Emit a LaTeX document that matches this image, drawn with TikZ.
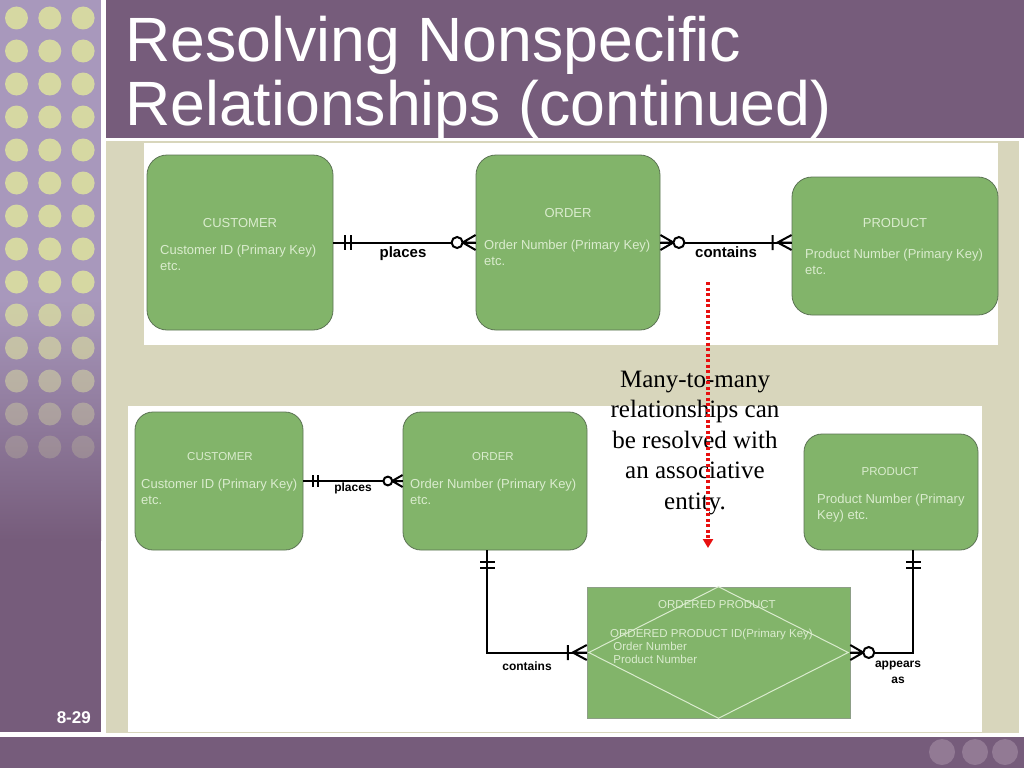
\documentclass[tikz,border=0pt]{standalone}
\usepackage{fontspec}
\setmainfont{Liberation Sans}
\newfontfamily\calloutfont{Liberation Serif}
\usetikzlibrary{arrows.meta}

\definecolor{titlepurple}{RGB}{118,92,123}
\definecolor{sidelight}{RGB}{168,152,188}
\definecolor{dotyellow}{RGB}{214,216,162}
\definecolor{panelbeige}{RGB}{216,214,188}
\definecolor{entgreen}{RGB}{130,180,106}
\definecolor{entborder}{RGB}{92,116,84}
\definecolor{enttext}{RGB}{218,236,206}
\definecolor{footdot}{RGB}{146,122,148}
\definecolor{calloutred}{RGB}{232,16,16}

\tikzset{
  entity/.style={draw=entborder, fill=entgreen, rounded corners=20pt, line width=0.8pt, inner sep=0pt},
  assocent/.style={draw=entborder!70, fill=entgreen, line width=0.5pt, inner sep=0pt},
  enttitle/.style={text=enttext, font=\fontsize{13}{16}\selectfont, inner sep=0pt, anchor=base},
  entbody/.style={text=enttext, font=\fontsize{13}{16}\selectfont, inner sep=0pt, anchor=north west, align=left},
  smalltitle/.style={enttitle, font=\fontsize{11.5}{14}\selectfont},
  smallbody/.style={entbody, font=\fontsize{11.5}{13}\selectfont},
  rel/.style={line width=2pt, black},
  rellabel/.style={font=\bfseries\fontsize{15}{17}\selectfont, inner sep=0pt, anchor=base},
  smalllabel/.style={rellabel, font=\bfseries\fontsize{12}{15.5}\selectfont, align=center},
  slidetitle/.style={text=white, font=\fontsize{62.6}{63}\selectfont, inner sep=0pt, anchor=base west},
  callout/.style={font=\calloutfont\fontsize{25}{30.6}\selectfont, align=center, inner sep=0pt, anchor=north},
  callarrow/.style={draw=calloutred, line width=3.5pt, dash pattern=on 3pt off 2.5pt, -{Triangle[width=10pt,length=9pt]}},
  pagenum/.style={text=white, font=\bfseries\fontsize{17}{17}\selectfont, inner sep=0pt, anchor=base east},
  mandone/.pic={\draw[rel] (12,-7.5) -- (12,7.5) (18,-7.5) -- (18,7.5);},
  zeromany/.pic={\draw[rel] (0,-7.5) -- (13,0) -- (0,7.5) (0,0) -- (13,0); \draw[rel,fill=white] (18.5,0) circle (5.5);},
  onemany/.pic={\draw[rel] (0,-7.5) -- (14,0) -- (0,7.5) (0,0) -- (14,0) (19,-7.5) -- (19,7.5);},
}

\begin{document}
\begin{tikzpicture}[x=1pt,y=-1pt]
\useasboundingbox (0,0) rectangle (1024,768);
\fill[white] (0,0) rectangle (1024,768);

% side column with dots
\fill[sidelight] (0,0) rectangle (101,301);
\shade[top color=sidelight, bottom color=titlepurple] (0,300) rectangle (101,540);
\fill[titlepurple] (0,539) rectangle (101,732);
\foreach \r in {0,...,13} {
  \pgfmathsetmacro\op{min(1,1-(\r-8)*0.15)}
  \foreach \c in {0,1,2}
    \fill[dotyellow, opacity=\op] (16.5+33.3*\c, 18+33*\r) circle (11.5);
}

% title bar
\fill[titlepurple] (106,0) rectangle (1024,138);
\node[slidetitle] (title1) at (125,62) {Resolving Nonspecific};
\node[slidetitle] (title2) at (125,125) {Relationships (continued)};

% panels
\fill[panelbeige] (106,141) rectangle (1019,733);
\fill[white] (144,143) rectangle (998,345);
\fill[white] (128,406) rectangle (982,732);

% footer
\fill[titlepurple] (0,737) rectangle (1024,768);
\foreach \x in {942,975,1005}
  \fill[footdot] (\x,752) circle (13);
\node[pagenum] (pnum) at (91,723) {8-29};

% upper diagram
\node[entity, minimum width=186pt, minimum height=175pt] (cust1) at (240,242.5) {};
\node[entity, minimum width=184pt, minimum height=175pt] (ord1) at (568,242.5) {};
\node[entity, minimum width=206pt, minimum height=138pt] (prod1) at (895,246) {};
\node[enttitle] (cust1t) at (240,227) {CUSTOMER};
\node[entbody] (cust1b) at (160,244.5) {Customer ID (Primary Key)\\etc.};
\node[enttitle] (ord1t) at (568,217) {ORDER};
\node[entbody] (ord1b) at (484,239.5) {Order Number (Primary Key)\\etc.};
\node[enttitle] (prod1t) at (895,227) {PRODUCT};
\node[entbody] (prod1b) at (805,248.5) {Product Number (Primary Key)\\etc.};

\draw[rel] (cust1.east) -- (ord1.west);
\pic at (cust1.east) {mandone};
\pic[rotate=180] at (ord1.west) {zeromany};
\node[rellabel] (places1) at (403,257) {places};

\draw[rel] (ord1.east) -- (ord1.east -| prod1.west);
\pic at (ord1.east) {zeromany};
\pic[rotate=180] at (ord1.east -| prod1.west) {onemany};
\node[rellabel] (contains1) at (726,257) {contains};

% lower diagram
\node[entity, rounded corners=18pt, minimum width=168pt, minimum height=138pt] (cust2) at (219,481) {};
\node[entity, rounded corners=18pt, minimum width=184pt, minimum height=138pt] (ord2) at (495,481) {};
\node[entity, rounded corners=18pt, minimum width=174pt, minimum height=116pt] (prod2) at (891,492) {};
\node[assocent, minimum width=263pt, minimum height=131pt] (assoc) at (718.5,652.5) {};
\draw[enttext, line width=1pt] (assoc.north) -- ([xshift=-2pt]assoc.east) -- (assoc.south) -- ([xshift=2pt]assoc.west) -- cycle;

\node[smalltitle] (cust2t) at (220,460) {CUSTOMER};
\node[entbody] (cust2b) at (141,478.5) {Customer ID (Primary Key)\\etc.};
\node[smalltitle] (ord2t) at (493,460) {ORDER};
\node[entbody] (ord2b) at (410,478.5) {Order Number (Primary Key)\\etc.};
\node[smalltitle] (prod2t) at (890,475) {PRODUCT};
\node[entbody] (prod2b) at (817,493.5) {Product Number (Primary\\Key) etc.};
\node[smalltitle] (assoct) at (717,608) {ORDERED PRODUCT};
\node[smallbody] (assocb) at (610,628.5) {ORDERED PRODUCT ID(Primary Key)\\\ Order Number\\\ Product Number};

\draw[rel] (cust2.east) -- (ord2.west);
\pic[scale=0.8] at (cust2.east) {mandone};
\pic[scale=0.8, rotate=180] at (ord2.west) {zeromany};
\node[smalllabel] (places2) at (353,491) {places};

\draw[rel] ([xshift=-8pt]ord2.south) |- (assoc.west);
\pic[rotate=-90] at ([xshift=-8pt]ord2.south) {mandone};
\pic[rotate=180] at (assoc.west) {onemany};
\node[smalllabel] (contains2) at (527,670) {contains};

\draw[rel] ([xshift=22pt]prod2.south) |- (assoc.east);
\pic[rotate=-90] at ([xshift=22pt]prod2.south) {mandone};
\pic at (assoc.east) {zeromany};
\node[smalllabel, anchor=north] (appears) at (898,661) {appears\\as};

% callout
\node[callout] (note) at (695,370.5) {Many-to-many\\relationships can\\be resolved with\\an associative\\entity.};
\coordinate (arrowtop) at (708,282);
\coordinate (arrowtip) at (708,548);
\draw[callarrow] (arrowtop) -- (arrowtip);
\end{tikzpicture}
\end{document}
